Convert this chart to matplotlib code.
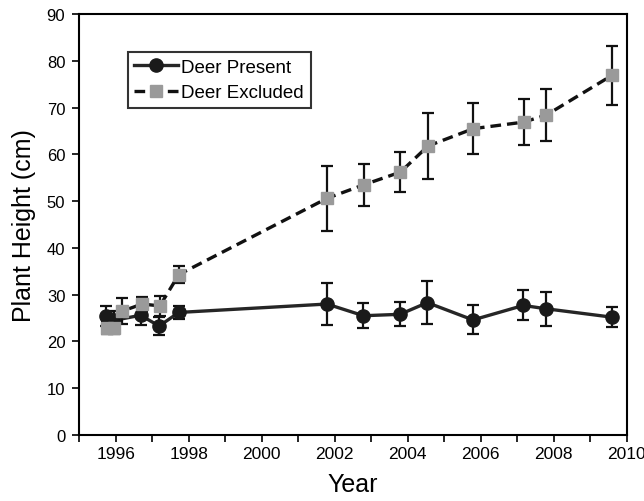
import matplotlib

matplotlib.use("Agg")
import matplotlib.pyplot as plt
from matplotlib.lines import Line2D
from matplotlib.ticker import MultipleLocator

plt.rcParams["font.family"] = ["Liberation Sans", "DejaVu Sans"]

present_x = [1995.73, 1995.95, 1996.68, 1997.19, 1997.73, 2001.79, 2002.79,
             2003.79, 2004.54, 2005.79, 2007.17, 2007.78, 2009.59]
present_y = [25.5, 24.5, 25.6, 23.3, 26.2, 28.0, 25.5, 25.8, 28.3, 24.6, 27.7, 27.0, 25.2]
present_err = [2.1, 2.0, 2.0, 2.0, 1.3, 4.5, 2.7, 2.6, 4.6, 3.1, 3.2, 3.6, 2.1]

excluded_x = [1995.75, 1995.95, 1996.18, 1996.73, 1997.21, 1997.73, 2001.79,
              2002.80, 2003.80, 2004.56, 2005.80, 2007.18, 2007.80, 2009.60]
excluded_y = [22.9, 22.9, 26.5, 28.0, 27.6, 34.3, 50.6, 53.5, 56.2, 61.8, 65.5, 66.9, 68.4, 76.9]
excluded_err = [1.3, 1.3, 2.8, 1.5, 2.1, 1.8, 7.0, 4.5, 4.2, 7.1, 5.5, 4.9, 5.6, 6.3]

series = ["Deer Present", "Deer Excluded"]

fig = plt.figure(figsize=(6.44, 5.02), dpi=100)
ax = fig.add_axes([0.123, 0.1315, 0.850, 0.8385])

present_style = dict(color="#262626", lw=2.4, marker="o", ms=9.5,
                     mfc="#1a1a1a", mec="#1a1a1a")
excluded_style = dict(color="#111111", lw=2.4, ls=(0, (3.2, 1.8)), marker="s",
                      ms=8, mfc="#9a9a9a", mec="#9a9a9a")
err_style = dict(ecolor="#111111", elinewidth=1.6, capsize=4, capthick=1.6)

ax.errorbar(present_x, present_y, yerr=present_err, zorder=3,
            **present_style, **err_style)
ax.errorbar(excluded_x, excluded_y, yerr=excluded_err, zorder=4,
            **excluded_style, **err_style)

ax.set_xlim(1995, 2010)
ax.set_ylim(0, 90)
ax.xaxis.set_minor_locator(MultipleLocator(1))
ax.set_xticks(range(1996, 2011, 2))
ax.yaxis.set_major_locator(MultipleLocator(10))
ax.tick_params(which="both", direction="out", length=5, width=1.2)
ax.tick_params(axis="x", labelsize=12.5, pad=3)
ax.tick_params(axis="y", labelsize=12, pad=5)
for s in ax.spines.values():
    s.set_linewidth(1.5)

ax.set_xlabel("Year", fontsize=18, labelpad=8)
ax.set_ylabel("Plant Height (cm)", fontsize=18, labelpad=8)

handles = [Line2D([], [], **present_style), Line2D([], [], **excluded_style)]
leg = ax.legend(handles, series, loc="upper left", bbox_to_anchor=(0.089, 0.91),
                fontsize=13.5, frameon=True, fancybox=False, edgecolor="black",
                handlelength=2.3, handletextpad=0.2, borderpad=0.35,
                labelspacing=0.45, borderaxespad=0)
leg.get_frame().set_linewidth(1.5)

fig.savefig("out.png", dpi=100)
plt.close(fig)
